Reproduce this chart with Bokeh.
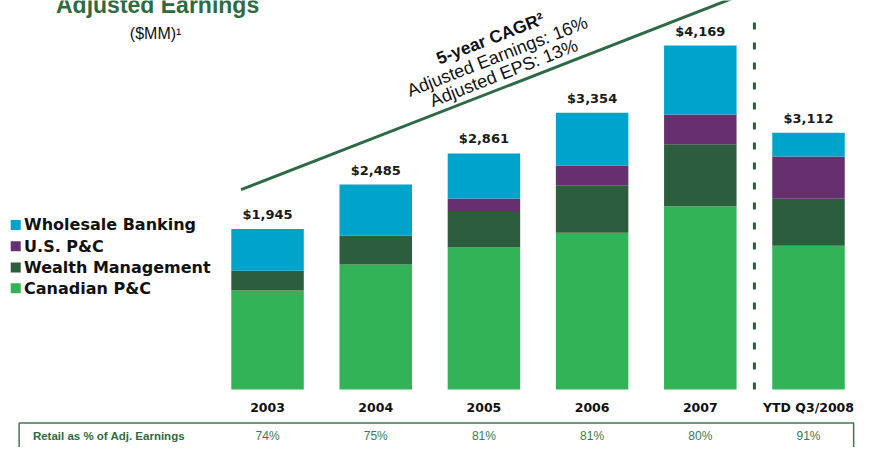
import math
from bokeh.plotting import figure
from bokeh.models import Range1d, ColumnDataSource
from bokeh.core.properties import value
from bokeh.embed import file_html
from bokeh.resources import INLINE

# ---------------- data ----------------
categories = ["2003", "2004", "2005", "2006", "2007", "YTD Q3/2008"]
canadian_pc = [1200, 1515, 1722, 1902, 2222, 1743]
wealth_mgmt = [240, 349, 429, 574, 750, 570]
us_pc = [0, 0, 166, 241, 363, 513]
wholesale = [505, 621, 544, 637, 834, 286]
totals = [1945, 2485, 2861, 3354, 4169, 3112]
retail_pct = [74, 75, 81, 81, 80, 91]
series_names = ["Canadian P&C", "Wealth Management", "U.S. P&C", "Wholesale Banking"]
series_colors = ["#32B357", "#2C5D3D", "#66306F", "#00A3C9"]

# ---------------- layout ----------------
W, H = 862, 447
KX, KY = W / 878.0, H / 463.0          # fit the 878x463 design into the canvas
X0, SX = 272.0 * KX, 110.2 * KX        # px of first category centre, px per category
BASE, SY = 403.0 * KY, 0.08547 * KY    # px of baseline, px per $MM


def dx(px):
    return (px * KX - X0) / SX


def dy(py):
    return (BASE - py * KY) / SY


p = figure(width=W, height=H, output_backend="svg", toolbar_location=None,
           x_range=Range1d(-X0 / SX, (W - X0) / SX),
           y_range=Range1d(-(H - BASE) / SY, BASE / SY),
           min_border=0)
p.axis.visible = False
p.grid.visible = False
p.outline_line_color = None
p.background_fill_color = "white"

idx = list(range(len(categories)))
src = ColumnDataSource(dict(x=idx, cat=categories, canadian=canadian_pc, wealth=wealth_mgmt,
                            us=us_pc, wholesale=wholesale, total=totals,
                            tlabel=[f"${t:,}" for t in totals],
                            pct=[f"{r}%" for r in retail_pct]))

p.vbar_stack(["canadian", "wealth", "us", "wholesale"], x="x", width=0.67,
             color=series_colors, line_color=None, source=src)

# total labels
p.text(x="x", y="total", text="tlabel", source=src, text_align="center",
       text_baseline="bottom", y_offset=-7, text_font=value("DejaVu Sans"),
       text_font_style="bold", text_font_size="13px", text_color="#1a1a1a")

# category labels
cat_y = [dy(422)] * len(idx)
p.text(x=idx, y=cat_y, text=categories, text_align="center", text_baseline="middle",
       text_font=value("DejaVu Sans"), text_font_style="bold", text_font_size="12.5px",
       text_color="#111111")

# retail table
p.quad(left=[dx(19)], right=[dx(869)], top=[dy(437.5)], bottom=[dy(490)],
       fill_color=None, line_color="#3D7A50", line_width=1.5)
p.text(x=[dx(33)], y=[dy(451)], text=["Retail as % of Adj. Earnings"],
       text_align="left", text_baseline="middle", text_font=value("Liberation Sans"),
       text_font_style="bold", text_font_size="11.5px", text_color="#2E6B40")
p.text(x=idx, y=[dy(451)] * len(idx), text=[f"{r}%" for r in retail_pct],
       text_align="center", text_baseline="middle", text_font=value("Liberation Sans"),
       text_font_size="12px", text_color="#3D7A50")

# dashed separator between 2007 and YTD
p.segment(x0=[4.5], y0=[dy(403)], x1=[4.5], y1=[dy(12)], line_color="#2C5D3D",
          line_width=3, line_dash="7 13")

# diagonal growth line
p.segment(x0=[dx(245)], y0=[dy(196)], x1=[dx(745)], y1=[dy(-2)], line_color="#2D6A45",
          line_width=3)

# rotated CAGR text
ang = math.atan2((196 - 0) * KY, (740 - 245) * KX)
nx, ny = math.sin(ang), math.cos(ang)
c2 = (506.0, 58.0)
c1 = (c2[0] - 20 * nx, c2[1] - 20 * ny)
c3 = (c2[0] + 18.4 * nx, c2[1] + 18.4 * ny)
p.text(x=[dx(c1[0])], y=[dy(c1[1])], text=["5-year CAGR²"], angle=ang,
       text_align="center", text_baseline="middle", text_font=value("Liberation Sans"),
       text_font_style="bold", text_font_size="17.5px", text_color="#111111")
p.text(x=[dx(c2[0]), dx(c3[0])], y=[dy(c2[1]), dy(c3[1])],
       text=["Adjusted Earnings: 16%", "Adjusted EPS: 13%"], angle=ang,
       text_align="center", text_baseline="middle", text_font=value("Liberation Sans"),
       text_font_size="18px", text_color="#111111")

# title (top clipped as in the original slide)
p.text(x=[dx(160)], y=[dy(4.5)], text=["Adjusted Earnings"], text_align="center",
       text_baseline="alphabetic", text_font=value("Liberation Sans"),
       text_font_style="bold", text_font_size="23px", text_color="#2E6B40")
p.text(x=[dx(158)], y=[dy(34)], text=["($MM)¹"], text_align="center",
       text_baseline="alphabetic", text_font=value("Liberation Sans"),
       text_font_size="16px", text_color="#111111")

# legend (top item = last stacked series)
leg_rows = [232.5, 254.5, 276.5, 298.0]
leg_names = list(reversed(series_names))
leg_cols = list(reversed(series_colors))
p.rect(x=[dx(15.5)] * 4, y=[dy(r) for r in leg_rows], width=10, height=10,
       width_units="screen", height_units="screen", fill_color=leg_cols, line_color=None)
p.text(x=[dx(24)] * 4, y=[dy(r) for r in leg_rows], text=leg_names, text_align="left",
       text_baseline="middle", text_font=value("DejaVu Sans"), text_font_style="bold",
       text_font_size="16px", text_color="#111111")

open("out.html", "w").write(file_html(p, INLINE))
